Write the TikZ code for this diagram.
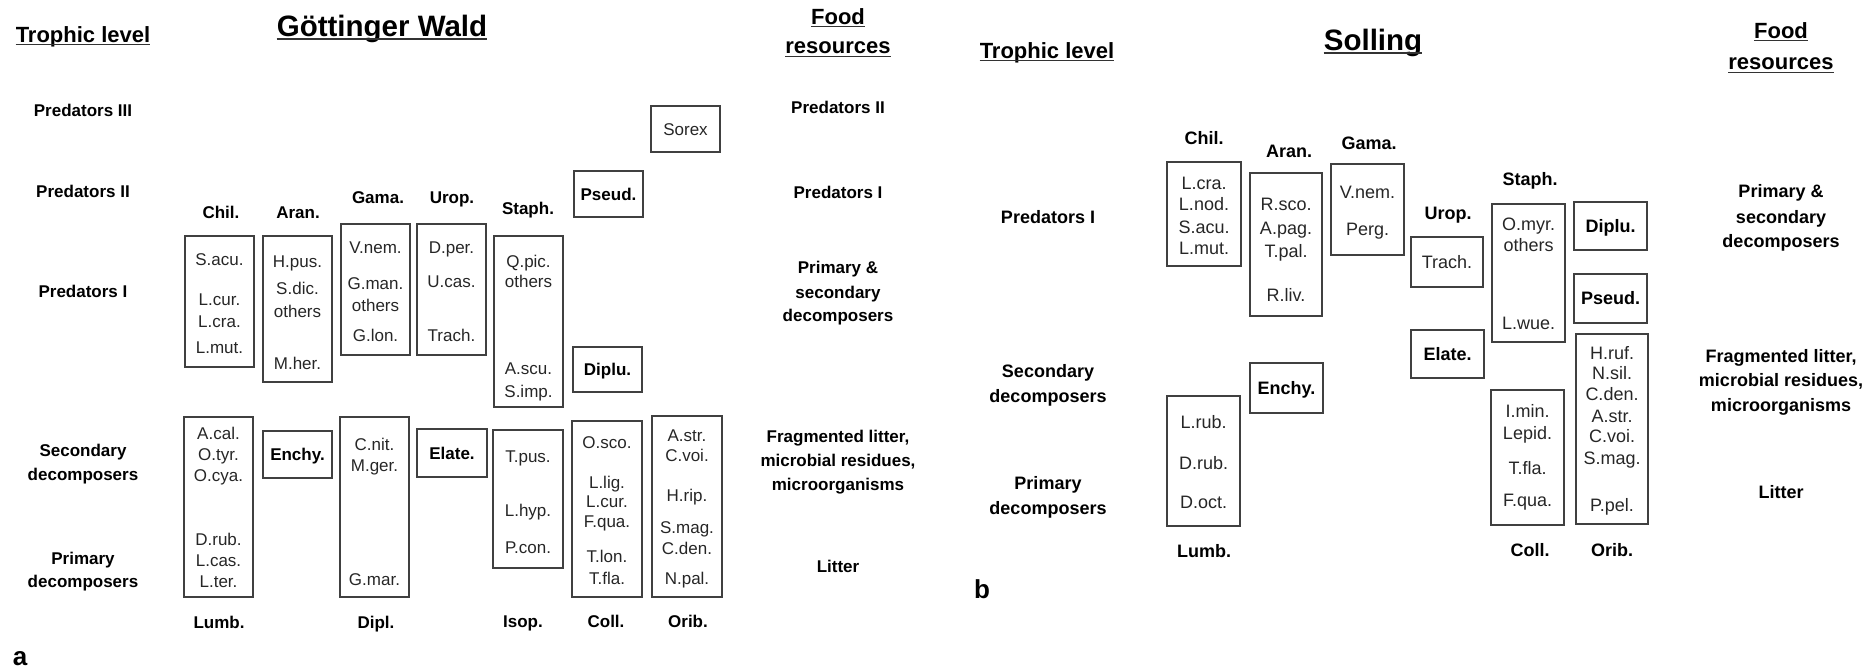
\documentclass[tikz,border=0pt]{standalone}
\usepackage{fontspec}
\setmainfont{Liberation Sans}
\begin{document}
\begin{tikzpicture}[x=1pt,y=-1pt,
  lbA/.style={font=\bfseries\fontsize{17}{20}\selectfont, inner sep=0pt, text height=12.2pt, text depth=0pt, text=black},
  spA/.style={font=\fontsize{17}{20}\selectfont, inner sep=0pt, text height=12.2pt, text depth=0pt, text=black!85},
  lbB/.style={font=\bfseries\fontsize{18}{21}\selectfont, inner sep=0pt, text height=12.9pt, text depth=0pt, text=black},
  spB/.style={font=\fontsize{18}{21}\selectfont, inner sep=0pt, text height=12.9pt, text depth=0pt, text=black!85},
  boxA/.style={draw=black!75, line width=1.5pt, inner sep=0pt, minimum width=69pt},
  boxB/.style={draw=black!75, line width=1.5pt, inner sep=0pt, minimum width=73pt},
  head/.style={font=\bfseries\fontsize{22}{26}\selectfont, inner sep=0pt, anchor=base},
  ttl/.style={font=\bfseries\fontsize{29.5}{34}\selectfont, inner sep=0pt, anchor=base},
  panel/.style={font=\bfseries\fontsize{26}{30}\selectfont, inner sep=0pt, anchor=base},
  ul/.style={line width=1.8pt, draw=black!80}
]
\useasboundingbox (0,0) rectangle (1874,667);

% ================= Panel a =================
\node[head] (aTL) at (83,42) {Trophic level};
\draw[ul] ([yshift=-2.5pt]aTL.base west) -- ([yshift=-2.5pt]aTL.base east);
\node[ttl] (aTitle) at (382,36) {Göttinger Wald};
\draw[ul] ([yshift=-3pt]aTitle.base west) -- ([yshift=-3pt]aTitle.base east);
\node[head] (aFood) at (838,24) {Food};
\draw[ul] ([yshift=-2.5pt]aFood.base west) -- ([yshift=-2.5pt]aFood.base east);
\node[head] (aRes) at (838,53) {resources};
\draw[ul] ([yshift=-3.5pt]aRes.base west) -- ([yshift=-3.5pt]aRes.base east);

% trophic levels (left)
\node[lbA] (aP3) at (83,110) {Predators III};
\node[lbA] (aP2) at (83,191) {Predators II};
\node[lbA] (aP1) at (83,291) {Predators I};
\node[lbA] (aSec1) at (83,450) {Secondary};
\node[lbA] (aSec2) at (83,474) {decomposers};
\node[lbA] (aPri1) at (83,558) {Primary};
\node[lbA] (aPri2) at (83,581) {decomposers};

% food resources (right)
\node[lbA] (aF1) at (838,107) {Predators II};
\node[lbA] (aF2) at (838,192) {Predators I};
\node[lbA] (aF3a) at (838,267) {Primary \&};
\node[lbA] (aF3b) at (838,292) {secondary};
\node[lbA] (aF3c) at (838,315) {decomposers};
\node[lbA] (aF4a) at (838,436) {Fragmented litter,};
\node[lbA] (aF4b) at (838,460) {microbial residues,};
\node[lbA] (aF4c) at (838,484) {microorganisms};
\node[lbA] (aF5) at (838,566) {Litter};

% group labels
\node[lbA] (aChilL) at (221,212) {Chil.};
\node[lbA] (aAranL) at (298,212) {Aran.};
\node[lbA] (aGamaL) at (378,197) {Gama.};
\node[lbA] (aUropL) at (452,197) {Urop.};
\node[lbA] (aStaphL) at (528,208) {Staph.};
\node[lbA] (aLumbL) at (219,622) {Lumb.};
\node[lbA] (aDiplL) at (376,622) {Dipl.};
\node[lbA] (aIsopL) at (523,621) {Isop.};
\node[lbA] (aCollL) at (606,621) {Coll.};
\node[lbA] (aOribL) at (688,621) {Orib.};

% boxes
\node[boxA, minimum height=131pt] (aChil) at (219.5,301.5) {};
\node[boxA, minimum height=146pt] (aAran) at (297.5,309) {};
\node[boxA, minimum height=131pt] (aGama) at (375.5,289.5) {};
\node[boxA, minimum height=131pt] (aUrop) at (451.5,289.5) {};
\node[boxA, minimum height=171pt] (aStaph) at (528.5,321.5) {};
\node[boxA, lbA, minimum height=46pt] (aPseud) at (608.5,194) {Pseud.};
\node[boxA, spA, minimum height=46pt] (aSorex) at (685.5,129) {Sorex};
\node[boxA, lbA, minimum height=45pt] (aDiplu) at (607.5,369.5) {Diplu.};
\node[boxA, minimum height=180pt] (aLumb) at (218.5,507) {};
\node[boxA, lbA, minimum height=47pt] (aEnchy) at (297.5,454.5) {Enchy.};
\node[boxA, minimum height=180pt] (aDipl) at (374.5,507) {};
\node[boxA, lbA, minimum height=48pt, minimum width=70pt] (aElate) at (452,453) {Elate.};
\node[boxA, minimum height=138pt, minimum width=70pt] (aIsop) at (528,499) {};
\node[boxA, minimum height=176pt, minimum width=70pt] (aColl) at (607,509) {};
\node[boxA, minimum height=181pt, minimum width=70pt] (aOrib) at (687,506.5) {};

% species
\foreach \nm/\yy [count=\i] in {S.acu./259, L.cur./299, L.cra./321, L.mut./347}
  \node[spA] (aChil-\i) at (219.5,\yy) {\nm};
\foreach \nm/\yy [count=\i] in {H.pus./261, S.dic./288, others/311, M.her./363}
  \node[spA] (aAran-\i) at (297.5,\yy) {\nm};
\foreach \nm/\yy [count=\i] in {V.nem./247, G.man./283, others/305, G.lon./335}
  \node[spA] (aGama-\i) at (375.5,\yy) {\nm};
\foreach \nm/\yy [count=\i] in {D.per./247, U.cas./281, Trach./335}
  \node[spA] (aUrop-\i) at (451.5,\yy) {\nm};
\foreach \nm/\yy [count=\i] in {Q.pic./261, others/281, A.scu./368, S.imp./391}
  \node[spA] (aStaph-\i) at (528.5,\yy) {\nm};
\foreach \nm/\yy [count=\i] in {A.cal./433, O.tyr./454, O.cya./475, D.rub./539, L.cas./560, L.ter./581}
  \node[spA] (aLumb-\i) at (218.5,\yy) {\nm};
\foreach \nm/\yy [count=\i] in {C.nit./444, M.ger./465, G.mar./579}
  \node[spA] (aDipl-\i) at (374.5,\yy) {\nm};
\foreach \nm/\yy [count=\i] in {T.pus./456, L.hyp./510, P.con./547}
  \node[spA] (aIsop-\i) at (528,\yy) {\nm};
\foreach \nm/\yy [count=\i] in {O.sco./442, L.lig./482, L.cur./501, F.qua./521, T.lon./556, T.fla./578}
  \node[spA] (aColl-\i) at (607,\yy) {\nm};
\foreach \nm/\yy [count=\i] in {A.str./435, C.voi./455, H.rip./495, S.mag./527, C.den./548, N.pal./578}
  \node[spA] (aOrib-\i) at (687,\yy) {\nm};

\node[panel] (aLetter) at (20,665) {a};

% ================= Panel b =================
\node[head] (bTL) at (1047,58) {Trophic level};
\draw[ul] ([yshift=-2.5pt]bTL.base west) -- ([yshift=-2.5pt]bTL.base east);
\node[ttl] (bTitle) at (1373,50) {Solling};
\draw[ul] ([yshift=-3pt]bTitle.base west) -- ([yshift=-3pt]bTitle.base east);
\node[head] (bFood) at (1781,38) {Food};
\draw[ul] ([yshift=-2.5pt]bFood.base west) -- ([yshift=-2.5pt]bFood.base east);
\node[head] (bRes) at (1781,69) {resources};
\draw[ul] ([yshift=-3.5pt]bRes.base west) -- ([yshift=-3.5pt]bRes.base east);

\node[lbB] (bP1) at (1048,217) {Predators I};
\node[lbB] (bSec1) at (1048,371) {Secondary};
\node[lbB] (bSec2) at (1048,396) {decomposers};
\node[lbB] (bPri1) at (1048,483) {Primary};
\node[lbB] (bPri2) at (1048,508) {decomposers};

\node[lbB] (bF1a) at (1781,191) {Primary \&};
\node[lbB] (bF1b) at (1781,217) {secondary};
\node[lbB] (bF1c) at (1781,241) {decomposers};
\node[lbB] (bF2a) at (1781,356) {Fragmented litter,};
\node[lbB] (bF2b) at (1781,380) {microbial residues,};
\node[lbB] (bF2c) at (1781,405) {microorganisms};
\node[lbB] (bF3) at (1781,492) {Litter};

\node[lbB] (bChilL) at (1204,138) {Chil.};
\node[lbB] (bAranL) at (1289,151) {Aran.};
\node[lbB] (bGamaL) at (1369,143) {Gama.};
\node[lbB] (bUropL) at (1448,213) {Urop.};
\node[lbB] (bStaphL) at (1530,179) {Staph.};
\node[lbB] (bLumbL) at (1204,551) {Lumb.};
\node[lbB] (bCollL) at (1530,550) {Coll.};
\node[lbB] (bOribL) at (1612,550) {Orib.};

\node[boxB, minimum height=104pt, minimum width=74pt] (bChil) at (1204,214) {};
\node[boxB, minimum height=143pt, minimum width=72pt] (bAran) at (1286,244.5) {};
\node[boxB, minimum height=91pt] (bGama) at (1367.5,209.5) {};
\node[boxB, spB, minimum height=50pt, minimum width=72pt] (bTrach) at (1447,262) {Trach.};
\node[boxB, lbB, minimum height=48pt] (bElate) at (1447.5,354) {Elate.};
\node[boxB, minimum height=138pt] (bStaph) at (1528.5,273) {};
\node[boxB, lbB, minimum height=48pt] (bDiplu) at (1610.5,226) {Diplu.};
\node[boxB, lbB, minimum height=49pt] (bPseud) at (1610.5,298.5) {Pseud.};
\node[boxB, minimum height=190pt, minimum width=72pt] (bOrib) at (1612,429) {};
\node[boxB, minimum height=135pt] (bColl) at (1527.5,457.5) {};
\node[boxB, minimum height=130pt] (bLumb) at (1203.5,461) {};
\node[boxB, lbB, minimum height=50pt] (bEnchy) at (1286.5,388) {Enchy.};

\foreach \nm/\yy [count=\i] in {L.cra./183, L.nod./204, S.acu./227, L.mut./248}
  \node[spB] (bChil-\i) at (1204,\yy) {\nm};
\foreach \nm/\yy [count=\i] in {R.sco./204, A.pag./228, T.pal./251, R.liv./295}
  \node[spB] (bAran-\i) at (1286,\yy) {\nm};
\foreach \nm/\yy [count=\i] in {V.nem./192, Perg./229}
  \node[spB] (bGama-\i) at (1367.5,\yy) {\nm};
\foreach \nm/\yy [count=\i] in {O.myr./224, others/245, L.wue./323}
  \node[spB] (bStaph-\i) at (1528.5,\yy) {\nm};
\foreach \nm/\yy [count=\i] in {L.rub./422, D.rub./463, D.oct./502}
  \node[spB] (bLumb-\i) at (1203.5,\yy) {\nm};
\foreach \nm/\yy [count=\i] in {I.min./411, Lepid./433, T.fla./468, F.qua./500}
  \node[spB] (bColl-\i) at (1527.5,\yy) {\nm};
\foreach \nm/\yy [count=\i] in {H.ruf./353, N.sil./373, C.den./394, A.str./416, C.voi./436, S.mag./458, P.pel./505}
  \node[spB] (bOrib-\i) at (1612,\yy) {\nm};

\node[panel] (bLetter) at (982,598) {b};
\end{tikzpicture}
\end{document}
